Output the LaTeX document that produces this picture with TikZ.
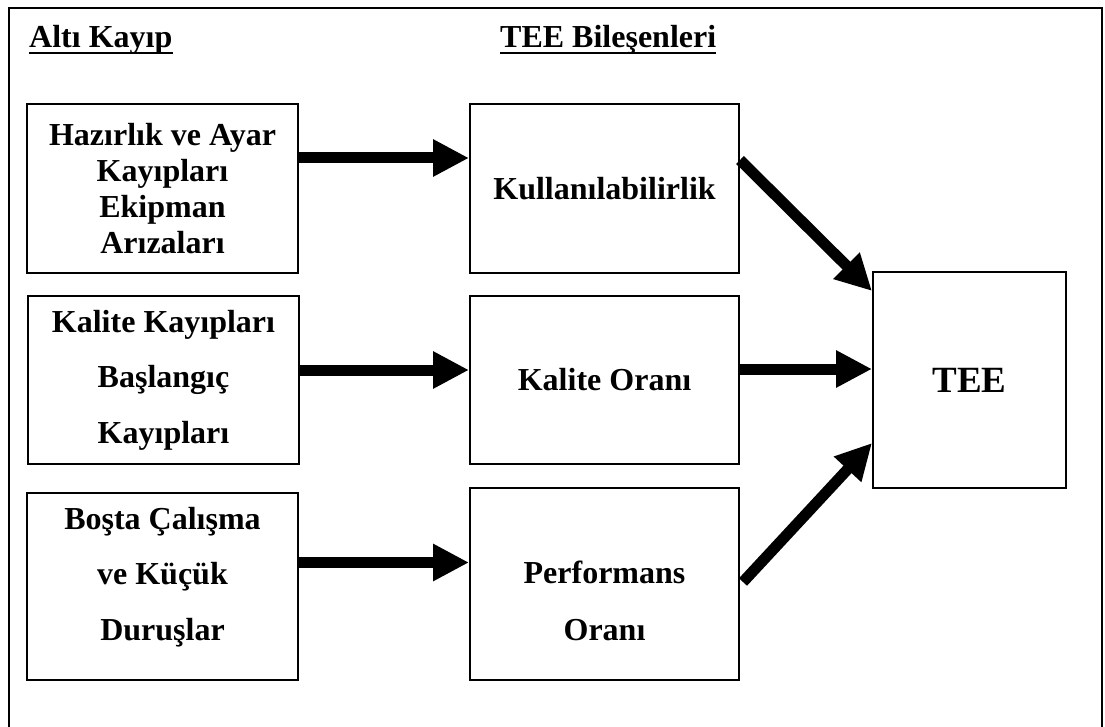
\documentclass[tikz,border=0pt]{standalone}
\usepackage{fontspec}
\setmainfont{Liberation Serif}
\usetikzlibrary{arrows.meta}
\begin{document}
\begin{tikzpicture}[x=1pt,y=-1pt,
  box/.style={draw, line width=2pt, inner sep=0pt},
  txt/.style={align=center, inner sep=0pt, font=\bfseries\fontsize{32}{#1}\selectfont},
  txt/.default=55.5,
  title/.style={anchor=base west, inner sep=0pt, font=\bfseries\fontsize{32}{36}\selectfont},
  arr/.style={line width=11pt, -{Triangle[length=36pt,width=35pt]}}]
\useasboundingbox (0,0) rectangle (1105,727);

% outer frame (open at the bottom)
\draw[line width=2pt] (9,727) -- (9,8) -- (1102,8) -- (1102,727);

% column headings
\node[title] (h1) at (29,48) {Altı Kayıp};
\node[title] (h2) at (500,48) {TEE Bileşenleri};
\draw[line width=2pt] ([yshift=-5.5pt]h1.base west) -- ([yshift=-5.5pt]h1.base east);
\draw[line width=2pt] ([yshift=-5.5pt]h2.base west) -- ([yshift=-5.5pt]h2.base east);

% six losses
\node[box, minimum width=271pt, minimum height=169pt] (b1) at (162.5,188.5) {};
\node[box, minimum width=271pt, minimum height=168pt] (b2) at (163.5,380) {};
\node[box, minimum width=271pt, minimum height=187pt] (b3) at (162.5,586.5) {};
\node[txt=36] (b1t) at (162.5,188.5) {Hazırlık ve Ayar\\Kayıpları\\Ekipman\\Arızaları};
\node[txt] (b2t) at (163.5,380) {Kalite Kayıpları\\Başlangıç\\Kayıpları};
\node[txt] (b3t) at (162.5,577) {Boşta Çalışma\\ve Küçük\\Duruşlar};

% components
\node[box, minimum width=269pt, minimum height=169pt] (k) at (604.5,188.5) {};
\node[box, minimum width=269pt, minimum height=168pt] (ko) at (604.5,380) {};
\node[box, minimum width=269pt, minimum height=192pt] (p) at (604.5,584) {};
\node[txt] (kt) at (604.5,189) {Kullanılabilirlik};
\node[txt] (kot) at (604.5,380) {Kalite Oranı};
\node[txt=57] (pt) at (604.5,600.5) {Performans\\Oranı};

% result
\node[box, minimum width=193pt, minimum height=216pt] (tee) at (969.5,380) {};
\node[inner sep=0pt, font=\bfseries\fontsize{37}{40}\selectfont] (teet) at (969.5,380) {TEE};

% connectors
\draw[arr] ([yshift=30.5pt]b1.east) -- ([yshift=30.5pt]b1.east -| k.west);
\draw[arr] ([yshift=10pt]b2.east) -- ([yshift=10pt]b2.east -| ko.west);
\draw[arr] ([yshift=24pt]b3.east) -- ([yshift=24pt]b3.east -| p.west);
\draw[arr] ([yshift=28.5pt]k.east) -- ([yshift=89pt]tee.west);
\draw[arr] ([yshift=11pt]ko.east) -- ([yshift=11pt]tee.west);
\draw[arr] ([yshift=2pt,xshift=3pt]p.east) -- ([yshift=-63pt]tee.west);
\end{tikzpicture}
\end{document}
